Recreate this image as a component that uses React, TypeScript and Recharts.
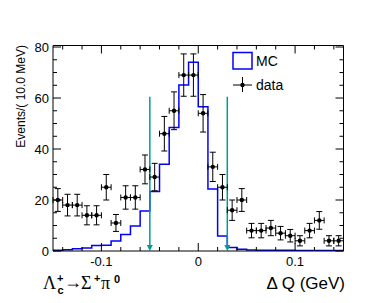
import { ComposedChart, Line, Scatter, ErrorBar, XAxis, YAxis, ReferenceLine, Legend } from 'recharts';

const binCenters = [
  -0.145, -0.135, -0.125, -0.115, -0.105, -0.095, -0.085, -0.075, -0.065, -0.055,
  -0.045, -0.035, -0.025, -0.015, -0.005, 0.005, 0.015, 0.025, 0.035, 0.045,
  0.055, 0.065, 0.075, 0.085, 0.095, 0.105, 0.115, 0.125, 0.135, 0.145,
];
const dataCounts = [20, 18, 18, 14, 14, 25, 11, 21, 21, 32, 29, 46, 55, 69, 69, 54, 33, 25, 16, 20, 8, 8, 9, 7, 6, 4, 8, 12, 4, 4];
const mcCounts = [
  0.3, 0.5, 0.9, 1.2, 2.2, 2.3, 3.9, 6.5, 9.8, 15.7,
  23.3, 34, 48.4, 65.1, 74, 56.6, 24.3, 5.9, 1.4, 0.7,
  0.4, 0.3, 0.3, 0.3, 0.3, 0.2, 0.2, 0.2, 0.2, 0.2,
];
const binHalf = 0.005;
const cutValues = [-0.05, 0.03];
const arrowTop = 60.5;
const xTicks = [-0.14, -0.12, -0.1, -0.08, -0.06, -0.04, -0.02, 0, 0.02, 0.04, 0.06, 0.08, 0.1, 0.12, 0.14];
const yTicks = [0, 5, 10, 15, 20, 25, 30, 35, 40, 45, 50, 55, 60, 65, 70, 75, 80];

const points = binCenters.map((x, i) => ({ x, y: dataCounts[i], ey: Math.sqrt(dataCounts[i]), ex: binHalf }));
const mcSteps = binCenters.map((x, i) => ({ x: x - binHalf, mc: mcCounts[i] }));
mcSteps.push({ x: binCenters[binCenters.length - 1] + binHalf, mc: mcCounts[mcCounts.length - 1] });

const SANS = '"Liberation Sans", Arial, Helvetica, sans-serif';
const SERIF = '"Liberation Serif", "DejaVu Serif", serif';
const BLUE = '#0000ff';
const TEAL = '#009a9a';

const isXMajor = (v: number) => Math.abs(v * 10 - Math.round(v * 10)) < 1e-6;
const isYMajor = (v: number) => v % 20 === 0;

function BottomTick({ x, y, payload }: any) {
  const major = isXMajor(payload.value);
  return (
    <g>
      <line x1={x} y1={y} x2={x} y2={y - (major ? 8 : 4)} stroke="#000" />
      {major && (
        <text x={x} y={y + 15} textAnchor="middle" fontSize={13} fontFamily={SANS} fill="#000">
          {String(Math.round(payload.value * 10) / 10)}
        </text>
      )}
    </g>
  );
}

function TopTick({ x, y, payload }: any) {
  const major = isXMajor(payload.value);
  return <line x1={x} y1={y} x2={x} y2={y + (major ? 8 : 4)} stroke="#000" />;
}

function LeftTick({ x, y, payload }: any) {
  const major = isYMajor(payload.value);
  return (
    <g>
      <line x1={x} y1={y} x2={x + (major ? 8 : 4)} y2={y} stroke="#000" />
      {major && (
        <text x={x - 4} y={y + 4.5} textAnchor="end" fontSize={13} fontFamily={SANS} fill="#000">
          {payload.value}
        </text>
      )}
    </g>
  );
}

function RightTick({ x, y, payload }: any) {
  const major = isYMajor(payload.value);
  return <line x1={x} y1={y} x2={x - (major ? 8 : 4)} y2={y} stroke="#000" />;
}

function Arrow({ x1, y1, x2, y2 }: any) {
  return (
    <g>
      <line x1={x1} y1={y1} x2={x2} y2={y2 - 3} stroke={TEAL} strokeWidth={1.5} />
      <polygon points={`${x2 - 3},${y2 - 6} ${x2 + 3},${y2 - 6} ${x2},${y2}`} fill={TEAL} />
    </g>
  );
}

function DataDot({ cx, cy }: any) {
  return <circle cx={cx} cy={cy} r={2.2} fill="#000" />;
}

function LegendBox() {
  return (
    <svg width={110} height={50} style={{ display: 'block' }}>
      <rect x={5} y={4.5} width={19} height={16.5} fill="none" stroke={BLUE} strokeWidth={1.5} />
      <text x={28} y={17.5} fontSize={14} fontFamily={SANS}>MC</text>
      <line x1={5} y1={37} x2={24} y2={37} stroke="#000" />
      <line x1={14.5} y1={29} x2={14.5} y2={44} stroke="#000" />
      <circle cx={14.5} cy={37} r={2.2} fill="#000" />
      <text x={28} y={42} fontSize={14} fontFamily={SANS}>data</text>
    </svg>
  );
}

export default function App() {
  return (
    <div style={{ position: 'relative', width: 382, height: 303, margin: -8, background: '#fff' }}>
      <ComposedChart width={382} height={303} margin={{ top: 44.5, right: 37.5, bottom: 51, left: 52 }}>
        <XAxis dataKey="x" type="number" domain={[-0.15, 0.15]} allowDataOverflow ticks={xTicks} interval={0}
          height={1} tickSize={0} tickMargin={0} tickLine={false} axisLine={{ stroke: '#000' }} tick={BottomTick} />
        <XAxis xAxisId="top" orientation="top" dataKey="x" type="number" domain={[-0.15, 0.15]} allowDataOverflow ticks={xTicks} interval={0}
          height={1} tickSize={0} tickMargin={0} tickLine={false} axisLine={{ stroke: '#000' }} tick={TopTick} />
        <YAxis type="number" domain={[0, 80.6]} allowDataOverflow ticks={yTicks} interval={0}
          width={1} tickSize={0} tickMargin={0} tickLine={false} axisLine={{ stroke: '#000' }} tick={LeftTick} />
        <YAxis yAxisId="right" orientation="right" type="number" domain={[0, 80.6]} allowDataOverflow ticks={yTicks} interval={0}
          width={1} tickSize={0} tickMargin={0} tickLine={false} axisLine={{ stroke: '#000' }} tick={RightTick} />
        <Line data={mcSteps} dataKey="mc" type="stepAfter" stroke={BLUE} strokeWidth={1.5} dot={false} isAnimationActive={false} legendType="none" />
        {cutValues.map((c) => (
          <ReferenceLine key={c} segment={[{ x: c, y: arrowTop }, { x: c, y: 0 }]} shape={Arrow} ifOverflow="visible" />
        ))}
        <Scatter data={points} dataKey="y" fill="#000" shape={DataDot} isAnimationActive={false} legendType="none">
          <ErrorBar dataKey="ey" direction="y" width={3} stroke="#000" strokeWidth={1} />
          <ErrorBar dataKey="ex" direction="x" width={3} stroke="#000" strokeWidth={1} />
        </Scatter>
        <Legend layout="vertical" align="center" verticalAlign="middle" content={LegendBox}
          wrapperStyle={{ left: 228, top: 48, width: 110, height: 50 }} />
      </ComposedChart>
      <svg width={382} height={303} style={{ position: 'absolute', left: 0, top: 0, pointerEvents: 'none' }}>
        <text transform="translate(24.5,45) rotate(-90)" textAnchor="end" fontSize={12} fontFamily={SANS}>Events/( 10.0 MeV)</text>
        <text x={345} y={289} textAnchor="end" fontSize={17} fontFamily={SANS}>Δ Q (GeV)</text>
        <text x={43} y={288.7} fontSize={18} fontFamily={SERIF}>Λ</text>
        <text x={57.5} y={294} fontSize={11} fontWeight="bold" fontFamily={SANS}>c</text>
        <text x={57} y={281.5} fontSize={11} fontWeight="bold" fontFamily={SANS}>+</text>
        <text x={64} y={288} fontSize={18} fontFamily={SERIF}>→</text>
        <text x={81} y={288.7} fontSize={18} fontFamily={SERIF}>Σ</text>
        <text x={94} y={281.5} fontSize={11} fontWeight="bold" fontFamily={SANS}>+</text>
        <text x={101} y={288.7} fontSize={18} fontFamily={SERIF}>π</text>
        <text x={114} y={283} fontSize={11} fontWeight="bold" fontFamily={SANS}>0</text>
      </svg>
    </div>
  );
}
